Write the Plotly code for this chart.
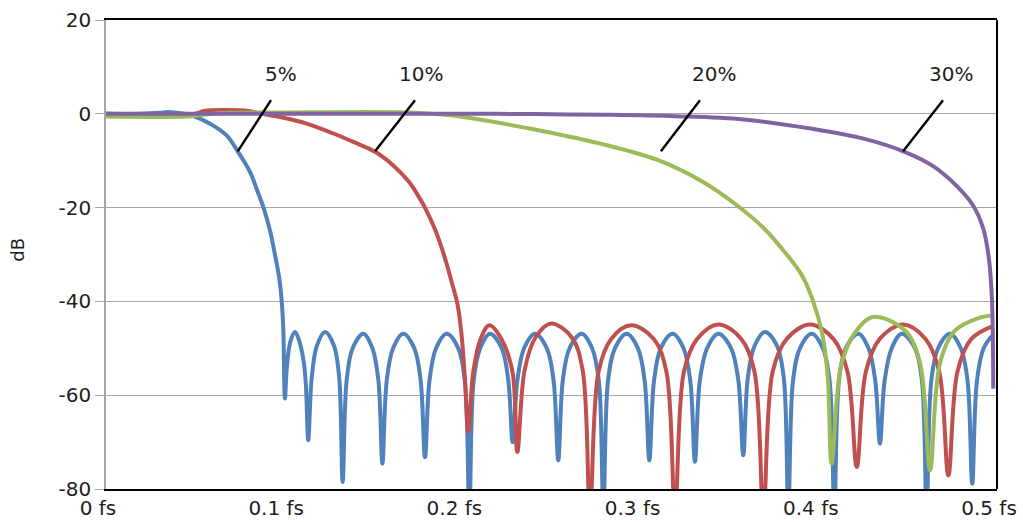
import plotly.graph_objects as go

# Magnitude response (dB) versus normalised frequency (fraction of fs)
# for four transition widths.
blue_f = [0.0, 0.020, 0.030, 0.035, 0.040, 0.044, 0.049, 0.0584, 0.0677, 0.0739,
          0.0808, 0.0850, 0.0884, 0.0921, 0.0948, 0.0972, 0.0986, 0.0995, 0.1004,
          0.1015, 0.1035, 0.1061, 0.1085, 0.1110, 0.1122, 0.1135,
          0.1154, 0.1183, 0.1229, 0.1280, 0.1309, 0.1328,
          0.1350, 0.1384, 0.1444, 0.1495, 0.1529, 0.1551,
          0.1575, 0.1611, 0.1668, 0.1730, 0.1766, 0.1790,
          0.1815, 0.1852, 0.1912, 0.1977, 0.2014, 0.2039,
          0.2063, 0.2100, 0.2155, 0.2221, 0.2258, 0.2282,
          0.2308, 0.2346, 0.2407, 0.2474, 0.2512, 0.2538,
          0.2563, 0.2601, 0.2669, 0.2728, 0.2766, 0.2791,
          0.2817, 0.2856, 0.2922, 0.2985, 0.3023, 0.3049,
          0.3075, 0.3113, 0.3180, 0.3241, 0.3279, 0.3305,
          0.3332, 0.3373, 0.3436, 0.3508, 0.3549, 0.3576,
          0.3601, 0.3639, 0.3698, 0.3766, 0.3804, 0.3829,
          0.3855, 0.3894, 0.3960, 0.4023, 0.4061, 0.4087,
          0.4113, 0.4151, 0.4222, 0.4279, 0.4317, 0.4343,
          0.4369, 0.4409, 0.4465, 0.4540, 0.4579, 0.4605,
          0.4631, 0.4669, 0.4736, 0.4797, 0.4835, 0.4861,
          0.4887, 0.4925, 0.4979]
blue_db = [0.0, 0.0, 0.2, 0.4, 0.2, 0.0, -0.5, -2.1, -4.6, -8.0,
           -12.4, -16.5, -20.0, -25.0, -30.0, -35.0, -40.0, -46.0, -60.7,
           -54.0, -48.5, -46.5, -48.5, -53.0, -58.0, -69.6,
           -56.5, -49.5, -46.5, -49.5, -56.5, -78.5,
           -57, -50, -46.9, -50, -57, -74.6,
           -57, -50, -46.9, -50, -57, -73.2,
           -57, -50, -46.9, -50, -57, -85,
           -57, -50, -46.9, -50, -57, -70.0,
           -57, -50, -46.9, -50, -57, -73.9,
           -57, -50, -46.9, -50, -57, -85,
           -57, -50, -46.9, -50, -57, -73.9,
           -57, -50, -46.9, -50, -57, -74.2,
           -57, -50, -46.9, -50, -57, -72.8,
           -56.5, -49.5, -46.5, -49.5, -56.5, -85,
           -57, -50, -46.9, -50, -57, -85,
           -57, -50, -46.9, -50, -57, -70.3,
           -57, -50, -46.9, -50, -57, -85,
           -57, -50, -46.9, -50, -57, -78.9,
           -57, -50, -47.0]

red_f = [0.0, 0.050, 0.055, 0.080, 0.086, 0.0976, 0.1126, 0.1276, 0.1388, 0.1510,
         0.1612, 0.1700, 0.1760, 0.1790, 0.1850, 0.1900, 0.1940, 0.1972, 0.1995,
         0.2015, 0.2033,
         0.2061, 0.2102, 0.2151, 0.2219, 0.2281, 0.2308,
         0.2349, 0.2410, 0.2497, 0.2614, 0.2675, 0.2716,
         0.2764, 0.2835, 0.2946, 0.3074, 0.3145, 0.3193,
         0.3243, 0.3317, 0.3436, 0.3565, 0.3639, 0.3689,
         0.3741, 0.3820, 0.3951, 0.4082, 0.4161, 0.4213,
         0.4264, 0.4342, 0.4474, 0.4599, 0.4676, 0.4727,
         0.4778, 0.4856, 0.4979]
red_db = [0.0, 0.0, 0.6, 0.6, 0.1, -0.7, -2.1, -4.2, -6.0, -8.1,
          -11.0, -14.5, -18.0, -20.0, -25.0, -30.5, -35.9, -40.5, -47.0,
          -57.0, -67.8,
          -55, -48, -45.1, -48, -55, -72.1,
          -54.7, -47.7, -44.7, -47.7, -54.7, -85,
          -55, -48, -45.1, -48, -55, -85,
          -55, -48, -44.9, -48, -55, -85,
          -55, -48, -44.9, -48, -55, -75.3,
          -55, -48, -44.9, -48, -55, -77.1,
          -55, -48, -45.2]

green_f = [0.0, 0.045, 0.055, 0.070, 0.100, 0.170, 0.190, 0.2043, 0.2427, 0.2811,
           0.3099, 0.3348, 0.3540, 0.3694, 0.3809, 0.3905, 0.3963, 0.4021, 0.4050,
           0.4072,
           0.4127, 0.4210, 0.4306, 0.4486, 0.4569, 0.4624,
           0.4679, 0.4762, 0.4900, 0.4979]
green_db = [-0.6, -0.6, -0.2, 0.2, 0.3, 0.3, -0.2, -0.9, -3.5, -6.7,
            -9.9, -14.5, -19.5, -24.5, -29.5, -34.4, -39.4, -47.2, -56.0,
            -74.6,
            -53.3, -46.3, -43.3, -46.3, -53.3, -76.0,
            -53.3, -46.3, -43.5, -43.0]

purple_f = [0.0, 0.22, 0.25, 0.28, 0.3195, 0.3579, 0.3963, 0.4251, 0.4481, 0.4635,
            0.4769, 0.4865, 0.4923, 0.4955, 0.4972, 0.4979]
purple_db = [0.0, 0.0, -0.1, -0.2, -0.5, -1.2, -3.2, -5.3, -8.1, -11.0,
             -15.2, -19.5, -24.5, -31.0, -40.0, -58.6]

# Curve labels and their leader lines
label_text = ["5%", "10%", "20%", "30%"]
label_f = [0.0982, 0.1768, 0.3412, 0.4742]
label_db = [8.5, 8.5, 8.5, 8.5]
lead_top_f = [0.0926, 0.1734, 0.3333, 0.4697]
lead_top_db = [2.9, 2.9, 2.9, 2.9]
lead_bot_f = [0.0739, 0.1510, 0.3114, 0.4473]
lead_bot_db = [-8.0, -8.0, -8.0, -8.0]

# Axis ticks
x_ticks = [0.0, 0.1, 0.2, 0.3, 0.4, 0.5]
x_tick_text = ["0 fs", "0.1 fs", "0.2 fs", "0.3 fs", "0.4 fs", "0.5 fs"]
y_ticks = [20, 0, -20, -40, -60, -80]
y_tick_text = ["20", "0", "-20", "-40", "-60", "-80"]

FONT = "DejaVu Sans, Liberation Sans, Arial, sans-serif"
TEXT = "#1e1e1e"

series = [
    ("5%", blue_f, blue_db, "#4F81BD"),
    ("10%", red_f, red_db, "#C0504D"),
    ("20%", green_f, green_db, "#9BBB59"),
    ("30%", purple_f, purple_db, "#8064A2"),
]

fig = go.Figure()
for name, f, db, color in series:
    fig.add_trace(go.Scatter(
        x=f, y=db, mode="lines", name=name, showlegend=False, hoverinfo="skip",
        line=dict(color=color, width=4, shape="spline", smoothing=1.0),
    ))

for i, txt in enumerate(label_text):
    fig.add_shape(type="line", xref="x", yref="y",
                  x0=lead_bot_f[i], y0=lead_bot_db[i],
                  x1=lead_top_f[i], y1=lead_top_db[i],
                  line=dict(color="#000000", width=2.4))
    fig.add_annotation(x=label_f[i], y=label_db[i], text=txt, showarrow=False,
                       xanchor="center", yanchor="middle",
                       font=dict(family=FONT, size=20, color=TEXT))

# Right-hand border of the plot area
fig.add_shape(type="line", xref="x domain", yref="y domain",
              x0=1, x1=1, y0=0, y1=1, line=dict(color="#000000", width=2))

fig.add_annotation(xref="paper", yref="paper", x=-0.0988, y=0.51, text="dB",
                   textangle=-90, showarrow=False, xanchor="center", yanchor="middle",
                   font=dict(family=FONT, size=18, color=TEXT))

fig.update_layout(
    width=1023, height=522,
    margin=dict(l=106, r=26, t=20, b=33),
    paper_bgcolor="#ffffff", plot_bgcolor="#ffffff",
    showlegend=False,
    font=dict(family=FONT, size=20, color=TEXT),
)
fig.update_xaxes(
    range=[0, 0.5], tickvals=x_ticks, ticktext=x_tick_text,
    showgrid=False, zeroline=False, automargin=False,
    showline=True, linecolor="#000000", linewidth=2, mirror=True,
    ticks="", ticklabelstandoff=0, ticklabelshift=-8,
    ticklabeloverflow="allow",
    tickfont=dict(family=FONT, size=20, color=TEXT),
)
fig.update_yaxes(
    range=[-80, 20], tickvals=y_ticks, ticktext=y_tick_text,
    showgrid=True, gridcolor="#A6A6A6", gridwidth=1.2, zeroline=False,
    automargin=False,
    showline=True, linecolor="#A6A6A6", linewidth=1.5,
    ticks="outside", ticklen=9, tickcolor="#A6A6A6", tickwidth=1.2,
    tickfont=dict(family=FONT, size=20, color=TEXT),
)

fig.write_html("out.html")
